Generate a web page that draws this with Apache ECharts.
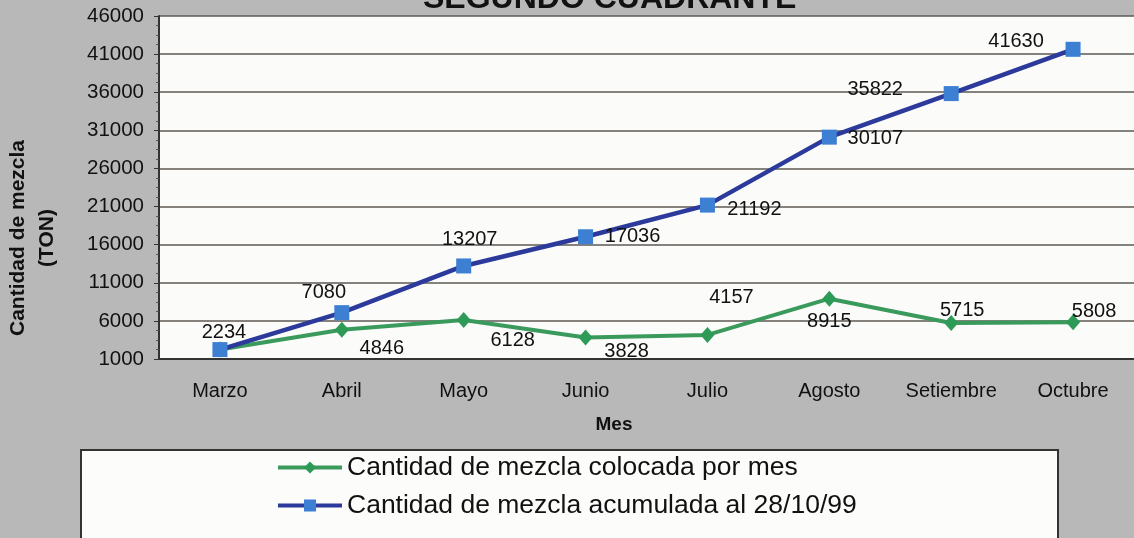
<!DOCTYPE html>
<html>
<head>
<meta charset="utf-8">
<script src="https://cdn.jsdelivr.net/npm/echarts/dist/echarts.min.js"></script>
<style>
  html, body { margin: 0; padding: 0; background: #b8b8b8; }
  #chart { width: 1134px; height: 538px; }
</style>
</head>
<body>
<div id="chart"></div>
<script>
// datos
const meses = ["Marzo", "Abril", "Mayo", "Junio", "Julio", "Agosto", "Setiembre", "Octubre"];
const colocadaMes = [2234, 4846, 6128, 3828, 4157, 8915, 5715, 5808];
const acumulada = [2234, 7080, 13207, 17036, 21192, 30107, 35822, 41630];
const nombreColocada = "Cantidad de mezcla colocada por mes";
const nombreAcumulada = "Cantidad de mezcla acumulada al 28/10/99";

// desplazamiento de cada etiqueta respecto a su punto
const offsetColocada = [null, [40, 19], [49, 21], [41, 14], [24, -37], [0, 23], [11, -13], [21, -11]];
const offsetAcumulada = [[4, -17], [-18, -20], [6, -26], [47, 0], [47, 4], [46, 1], [-76, -4], [-57, -8]];

const FONT = '"Liberation Sans", Arial, sans-serif';

function conEtiquetas(valores, offsets) {
  return valores.map((v, i) => {
    if (!offsets[i]) return { value: v, label: { show: false } };
    return { value: v, label: { show: true, position: "inside", offset: offsets[i] } };
  });
}

const chart = echarts.init(document.getElementById("chart"));
chart.setOption({
  backgroundColor: "#b8b8b8",
  animation: false,
  title: {
    text: "SEGUNDO CUADRANTE",
    left: 418,
    top: -22,
    textStyle: { fontFamily: FONT, fontSize: 32, fontWeight: "bold", color: "#111" },
  },
  grid: {
    left: 159,
    right: -3,
    top: 16,
    bottom: 179,
    show: true,
    backgroundColor: "#fbfbfa",
    borderWidth: 0,
  },
  legend: {
    orient: "vertical",
    left: 276,
    top: 454,
    padding: 0,
    itemWidth: 64,
    itemHeight: 15,
    itemGap: 11,
    data: [nombreColocada, nombreAcumulada],
    lineStyle: { width: 4 },
    textStyle: { fontFamily: FONT, fontSize: 26.5, color: "#111" },
  },
  xAxis: {
    type: "category",
    data: meses,
    axisLine: { lineStyle: { color: "#333", width: 2 } },
    axisTick: { length: 6, lineStyle: { color: "#333", width: 1.5 } },
    axisLabel: { fontFamily: FONT, fontSize: 20, color: "#111", margin: 22 },
  },
  yAxis: {
    type: "value",
    min: 1000,
    max: 46000,
    interval: 5000,
    axisLine: { show: true, lineStyle: { color: "#333", width: 2 } },
    axisTick: { show: true, length: 5, lineStyle: { color: "#333" } },
    minorTick: { show: true, splitNumber: 4, length: 3, lineStyle: { color: "#555" } },
    splitLine: { lineStyle: { color: "#5e5852", width: 1.6 } },
    axisLabel: { fontFamily: FONT, fontSize: 20.5, color: "#111", margin: 15, formatter: (v) => String(v) },
  },
  graphic: [
    {
      type: "rect",
      left: 80,
      top: 449,
      shape: { width: 977, height: 110 },
      style: { fill: "#fcfcfb", stroke: "#333", lineWidth: 2 },
      z: -1,
    },
    {
      type: "text",
      x: 18,
      y: 238,
      rotation: Math.PI / 2,
      style: { text: "Cantidad de mezcla", font: "bold 21px " + FONT, fill: "#111", textAlign: "center", textVerticalAlign: "middle" },
    },
    {
      type: "text",
      x: 47,
      y: 238,
      rotation: Math.PI / 2,
      style: { text: "(TON)", font: "bold 21px " + FONT, fill: "#111", textAlign: "center", textVerticalAlign: "middle" },
    },
    {
      type: "text",
      x: 614,
      y: 425,
      style: { text: "Mes", font: "bold 19px " + FONT, fill: "#111", textAlign: "center", textVerticalAlign: "middle" },
    },
  ],
  series: [
    {
      name: nombreColocada,
      type: "line",
      data: conEtiquetas(colocadaMes, offsetColocada),
      symbol: "diamond",
      symbolSize: [14, 16],
      itemStyle: { color: "#2e9a58" },
      lineStyle: { color: "#3a9a5c", width: 4 },
      label: { fontFamily: FONT, fontSize: 20, color: "#111" },
      z: 2,
    },
    {
      name: nombreAcumulada,
      type: "line",
      data: conEtiquetas(acumulada, offsetAcumulada),
      symbol: "rect",
      symbolSize: 15,
      itemStyle: { color: "#3c7fd3" },
      lineStyle: { color: "#2b3a9b", width: 4.5 },
      label: { fontFamily: FONT, fontSize: 20, color: "#111" },
      z: 3,
    },
  ],
});
</script>
</body>
</html>
